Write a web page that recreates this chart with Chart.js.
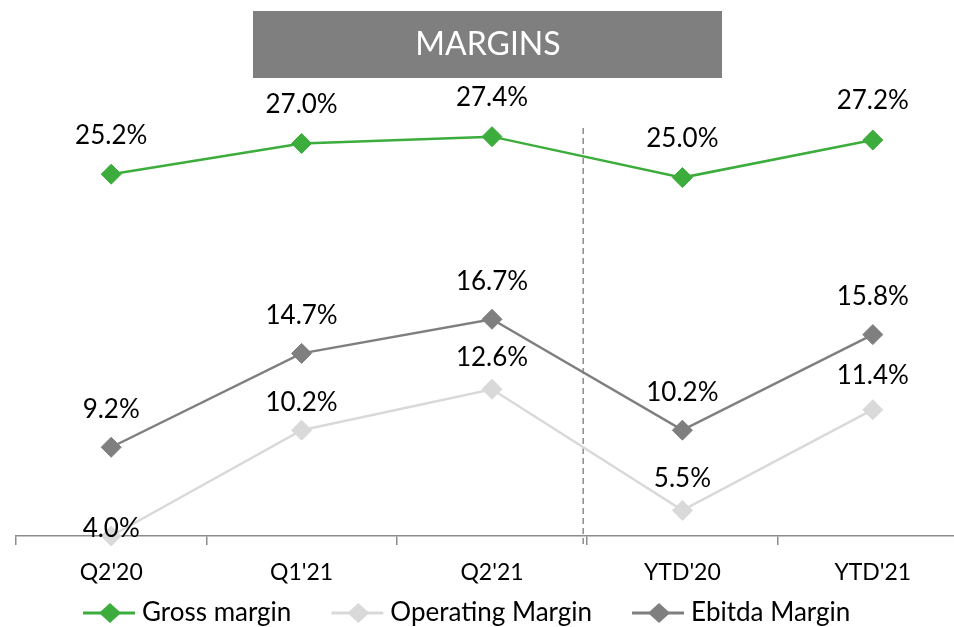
<!DOCTYPE html>
<html>
<head>
<meta charset="utf-8">
<title>Margins</title>
<script src="https://cdn.jsdelivr.net/npm/chart.js@4.4.1/dist/chart.umd.min.js"></script>
<style>
  html, body { margin: 0; padding: 0; background: #fff; overflow: hidden; }
  #wrap { width: 954px; height: 627px; position: relative; overflow: hidden; }
</style>
</head>
<body>
<div id="wrap"><canvas id="marginsChart" width="968" height="627"></canvas></div>
<script>
const periods = ["Q2'20", "Q1'21", "Q2'21", "YTD'20", "YTD'21"];
const grossMargin = [25.2, 27.0, 27.4, 25.0, 27.2];
const operatingMargin = [4.0, 10.2, 12.6, 5.5, 11.4];
const ebitdaMargin = [9.2, 14.7, 16.7, 10.2, 15.8];
const yMin = 4;
const yMax = 34;

const FONT = "Lato, 'Open Sans', sans-serif";

// grey title box
const titleBox = {
  id: "titleBox",
  afterDraw(chart) {
    const c = chart.ctx;
    c.save();
    c.fillStyle = "#7f7f7f";
    c.fillRect(253, 11, 469, 67);
    c.fillStyle = "#ffffff";
    c.font = "32px " + FONT;
    c.textAlign = "center";
    c.textBaseline = "middle";
    c.fillText("MARGINS", 488, 45);
    c.restore();
  }
};

// dashed separator between quarters and YTD
const divider = {
  id: "divider",
  beforeDatasetsDraw(chart) {
    const x = chart.scales.x;
    const px = (x.getPixelForValue(2) + x.getPixelForValue(3)) / 2 - 4;
    const c = chart.ctx;
    c.save();
    c.strokeStyle = "#8c8c8c";
    c.lineWidth = 1.5;
    c.setLineDash([6, 4]);
    c.beginPath();
    c.moveTo(px, 128);
    c.lineTo(px, chart.chartArea.bottom + 9);
    c.stroke();
    c.restore();
  }
};

// value labels above each point
const pointLabels = {
  id: "pointLabels",
  afterDatasetsDraw(chart) {
    const c = chart.ctx;
    c.save();
    c.fillStyle = "#000";
    c.font = "26px " + FONT;
    c.textAlign = "center";
    c.textBaseline = "middle";
    chart.data.datasets.forEach((ds, di) => {
      const meta = chart.getDatasetMeta(di);
      meta.data.forEach((pt, i) => {
        const lift = Array.isArray(ds.labelLift) ? ds.labelLift[i] : ds.labelLift;
        c.fillText(ds.data[i].toFixed(1) + "%", pt.x, pt.y - lift);
      });
    });
    c.restore();
  }
};

// legend: line with diamond + name
const lineLegend = {
  id: "lineLegend",
  afterDraw(chart) {
    const c = chart.ctx;
    const y = 613;
    let x = 83;
    c.save();
    c.font = "26px " + FONT;
    c.textBaseline = "middle";
    chart.data.datasets.forEach(ds => {
      c.strokeStyle = ds.borderColor;
      c.lineWidth = 3;
      c.beginPath();
      c.moveTo(x, y);
      c.lineTo(x + 52, y);
      c.stroke();
      const cx = x + 27;
      c.fillStyle = ds.pointBackgroundColor;
      c.beginPath();
      c.moveTo(cx - 11, y);
      c.lineTo(cx, y - 10);
      c.lineTo(cx + 11, y);
      c.lineTo(cx, y + 10);
      c.closePath();
      c.fill();
      c.fillStyle = "#000";
      c.fillText(ds.label, x + 59, y);
      x += 59 + c.measureText(ds.label).width + 40;
    });
    c.restore();
  }
};

function series(label, data, color, lift) {
  return {
    label: label,
    data: data,
    borderColor: color,
    backgroundColor: color,
    pointBackgroundColor: color,
    pointBorderColor: color,
    borderWidth: 2.5,
    pointStyle: "rectRot",
    pointRadius: 10,
    pointBorderWidth: 1,
    tension: 0,
    clip: false,
    labelLift: lift
  };
}

new Chart(document.getElementById("marginsChart"), {
  type: "line",
  data: {
    labels: periods,
    datasets: [
      series("Gross margin", grossMargin, "#3cad3c", 39),
      series("Operating Margin", operatingMargin, "#d9d9d9", [7, 28, 32, 32, 34]),
      series("Ebitda Margin", ebitdaMargin, "#7f7f7f", 38)
    ]
  },
  options: {
    responsive: false,
    devicePixelRatio: 1,
    animation: false,
    events: [],
    layout: {
      autoPadding: false,
      padding: { top: 24, left: 16, right: 0, bottom: 0 }
    },
    plugins: {
      legend: { display: false },
      title: { display: false },
      tooltip: { enabled: false }
    },
    scales: {
      x: {
        offset: true,
        grid: {
          offset: true,
          drawOnChartArea: false,
          drawTicks: true,
          tickLength: 9,
          color: "#8c8c8c",
          lineWidth: 1.5
        },
        border: { display: true, color: "#8c8c8c", width: 1.5 },
        ticks: {
          color: "#000",
          font: { family: FONT, size: 23 },
          padding: 14,
          maxRotation: 0
        },
        afterFit(scale) { scale.height = 91; }
      },
      y: {
        display: false,
        min: yMin,
        max: yMax
      }
    }
  },
  plugins: [divider, pointLabels, titleBox, lineLegend]
});
</script>
</body>
</html>
